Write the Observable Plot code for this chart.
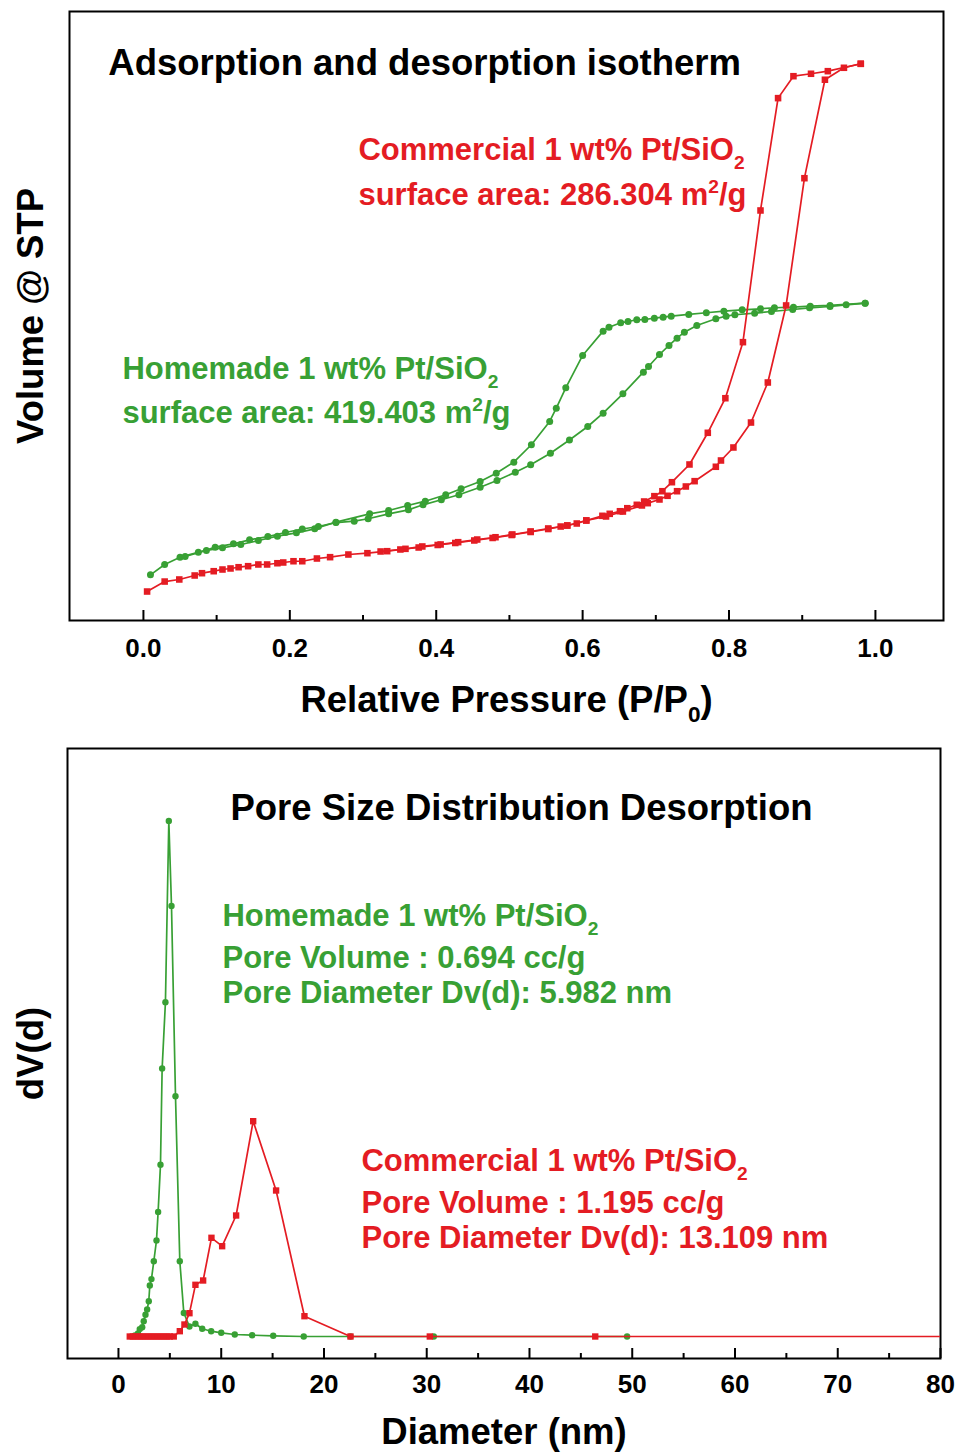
<!DOCTYPE html>
<html>
<head>
<meta charset="utf-8">
<script src="https://cdn.jsdelivr.net/npm/d3@7"></script>
<script src="https://cdn.jsdelivr.net/npm/@observablehq/plot@0.6"></script>
<style>
  html, body { margin: 0; padding: 0; background: #fff; }
  #wrap { width: 958px; }
  #wrap svg { display: block; }
</style>
</head>
<body>
<div id="wrap"></div>
<script>
// ---------- Isotherm data (relative pressure P/P0, volume cm3/g STP) ----------
const commAdsP = [0.005,0.029,0.049,0.070,0.080,0.096,0.108,0.119,0.130,0.143,0.157,0.169,0.183,0.191,0.205,0.217,0.237,0.255,0.280,0.306,0.333,0.358,0.381,0.406,0.430,0.456,0.481,0.504,0.529,0.553,0.570,0.579,0.592,0.605,0.632,0.655,0.681,0.689,0.705,0.716,0.729,0.741,0.753,0.782,0.789,0.806,0.830,0.853,0.878,0.903,0.931,0.957,0.980];
const commAdsV = [58.2,71.7,74.5,79.9,83.0,85.7,88.0,89.4,91.1,92.5,94.8,94.8,96.5,97.5,99.2,99.2,102.9,104.7,108.3,110.1,112.8,116.0,119.2,121.9,125.0,128.6,131.7,135.4,139.5,143.5,146.2,147.6,150.3,154.4,159.8,166.5,174.7,177.8,182.8,187.8,194.0,200.4,207.6,227.1,235.6,253.2,287.0,341.2,445.5,617.8,751.1,767.3,772.7];
const commDesP = [0.980,0.935,0.912,0.888,0.867,0.843,0.819,0.795,0.771,0.746,0.722,0.709,0.698,0.684,0.674,0.661,0.651,0.637,0.627,0.605,0.579,0.553,0.529,0.503,0.477,0.452,0.426,0.402,0.376,0.351,0.324];
const commDesV = [772.7,762.7,759.2,755.9,726.2,574.1,395.8,319.9,273.1,230.2,206.2,194.0,187.3,180.1,175.6,171.0,166.9,163.4,160.7,154.4,147.6,142.8,138.8,134.7,130.7,127.3,123.9,121.2,117.8,115.1,112.4];
const homeAdsP = [0.0096,0.029,0.050,0.075,0.098,0.123,0.145,0.170,0.194,0.217,0.239,0.263,0.288,0.307,0.335,0.362,0.382,0.407,0.431,0.460,0.483,0.508,0.529,0.556,0.582,0.607,0.628,0.655,0.683,0.690,0.705,0.718,0.729,0.739,0.756,0.782,0.796,0.808,0.835,0.858,0.887,0.910,0.938,0.960,0.986];
const homeAdsV = [80.8,94.8,104.7,111.4,118.2,122.8,128.2,132.7,138.1,142.8,146.2,151.6,153.4,156.7,163.4,168.8,175.6,182.4,189.2,199.4,208.5,219.7,229.8,245.5,263.4,281.6,299.6,325.9,355.2,362.9,379.1,391.3,401.2,409.3,418.4,427.5,431.0,432.9,435.0,437.3,440.0,442.3,444.1,446.4,448.6];
const homeDesP = [0.986,0.938,0.911,0.888,0.862,0.843,0.818,0.793,0.769,0.745,0.721,0.710,0.698,0.685,0.674,0.662,0.652,0.636,0.628,0.600,0.577,0.564,0.555,0.530,0.506,0.482,0.460,0.434,0.413,0.385,0.361,0.335,0.309,0.263,0.234,0.209,0.183,0.157,0.133,0.108,0.086,0.057];
const homeDesV = [448.6,445.5,444.5,443.2,442.4,441.0,439.6,437.8,435.6,433.3,431.0,429.6,428.3,426.5,426.1,423.8,422.0,416.1,410.7,377.8,334.0,306.4,288.4,256.9,233.3,218.4,207.2,197.3,189.2,180.5,174.7,167.9,163.4,152.1,143.1,137.7,133.1,127.3,121.9,117.4,113.7,105.6];
const pressureTicks = [0, 0.2, 0.4, 0.6, 0.8, 1.0];
const pressureMinorTicks = [0.1, 0.3, 0.5, 0.7, 0.9];

// ---------- Pore size distribution data (diameter nm, dV(d)) ----------
const commPoreD = [1.1,1.4,1.7,2.0,2.3,2.6,2.9,3.2,3.5,3.8,4.1,4.4,4.7,5.0,5.38,5.97,6.42,6.91,7.49,8.24,9.05,10.09,11.45,13.11,15.34,18.10,22.58,30.3,46.4,95];
const commPoreV = [0,0,0,0,0,0,0,0,0,0,0,0,0,0,0,0.0053,0.012,0.0233,0.0517,0.056,0.0987,0.0903,0.121,0.2153,0.146,0.0203,0,0,0,0];
const homePoreD = [1.6,1.9,2.07,2.31,2.46,2.63,2.79,2.95,3.05,3.21,3.44,3.70,3.86,4.09,4.25,4.57,4.90,5.16,5.55,5.97,6.36,6.91,7.49,8.15,9.02,10.0,11.32,13.01,15.06,18.03,22.58,30.69,49.5];
const homePoreV = [0.001,0.003,0.0074,0.0092,0.0153,0.0217,0.0271,0.0353,0.051,0.0574,0.0753,0.096,0.1246,0.1717,0.2681,0.3342,0.5156,0.4306,0.2403,0.0753,0.0235,0.010,0.0127,0.0077,0.0053,0.0037,0.002,0.0013,0.0007,0,0,0,0];
const diameterTicks = [0, 10, 20, 30, 40, 50, 60, 70, 80];
const diameterMinorTicks = [5, 15, 25, 35, 45, 55, 65, 75];

const RED = "#e41c23";
const GREEN = "#38a034";
const FONT = "'Liberation Sans', Arial, Helvetica, sans-serif";

const zip = (xs, ys, branch) => xs.map((x, i) => ({x, y: ys[i], branch}));
const commIso = [...zip(commAdsP, commAdsV, "ads"), ...zip(commDesP, commDesV, "des")];
const homeIso = [...zip(homeAdsP, homeAdsV, "ads"), ...zip(homeDesP, homeDesV, "des")];
const commPore = zip(commPoreD, commPoreV, "c");
const homePore = zip(homePoreD, homePoreV, "h");

// Converts _{..} and ^{..} into sub/superscript tspans
function richify(svg) {
  svg.querySelectorAll("text").forEach(t => {
    const s = t.textContent;
    if (!/[_^]\{/.test(s)) return;
    const F = parseFloat(getComputedStyle(t).fontSize);
    while (t.firstChild) t.removeChild(t.firstChild);
    let off = 0;
    for (const part of s.split(/([_^]\{[^}]*\})/)) {
      if (!part) continue;
      const m = part.match(/^([_^])\{([^}]*)\}$/);
      const ts = document.createElementNS("http://www.w3.org/2000/svg", "tspan");
      if (m) {
        const target = m[1] === "_" ? 0.28 * F : -0.40 * F;
        ts.setAttribute("dy", target - off); off = target;
        ts.setAttribute("font-size", 0.62 * F);
        ts.textContent = m[2];
      } else {
        ts.setAttribute("dy", -off); off = 0;
        ts.textContent = part;
      }
      t.appendChild(ts);
    }
  });
}

const TITLE = 36.5, NOTE = 31, TICK = 26;

const isoPlot = Plot.plot({
  width: 958,
  height: 730,
  marginLeft: 69,
  marginRight: 15,
  marginTop: 11,
  marginBottom: 110,
  style: {fontFamily: FONT, fontWeight: "bold", background: "white", color: "black"},
  x: {domain: [-0.101, 1.093]},
  y: {domain: [18.96, 843.5], axis: null},
  marks: [
    Plot.frame({stroke: "black", strokeWidth: 2}),
    Plot.axisX({ticks: pressureTicks, tickSize: -10, tickFormat: () => "", strokeWidth: 2, label: null}),
    Plot.axisX({ticks: pressureMinorTicks, tickSize: -5, tickFormat: () => "", strokeWidth: 2, label: null}),
    Plot.axisX({ticks: pressureTicks, tickSize: 0, tickPadding: 18, tickFormat: d => d.toFixed(1), fontSize: TICK, fontWeight: "bold", label: null}),
    Plot.line(homeIso, {x: "x", y: "y", z: "branch", stroke: GREEN, strokeWidth: 1.7}),
    Plot.dot(homeIso, {x: "x", y: "y", r: 3.5, fill: GREEN, stroke: "none"}),
    Plot.line(commIso, {x: "x", y: "y", z: "branch", stroke: RED, strokeWidth: 1.7}),
    Plot.dot(commIso, {x: "x", y: "y", symbol: "square", r: 3.7, fill: RED, stroke: "none"}),
    Plot.text(["Adsorption and desorption isotherm"], {x: -0.048, y: 773, textAnchor: "start", fontSize: TITLE, fontWeight: "bold", fill: "black"}),
    Plot.text(["Commercial 1 wt% Pt/SiO_{2}"], {x: 0.2937, y: 655.3, textAnchor: "start", fontSize: NOTE, fontWeight: "bold", fill: RED}),
    Plot.text(["surface area: 286.304 m^{2}/g"], {x: 0.2937, y: 594.4, textAnchor: "start", fontSize: NOTE, fontWeight: "bold", fill: RED}),
    Plot.text(["Homemade 1 wt% Pt/SiO_{2}"], {x: -0.0287, y: 358.8, textAnchor: "start", fontSize: NOTE, fontWeight: "bold", fill: GREEN}),
    Plot.text(["surface area: 419.403 m^{2}/g"], {x: -0.0287, y: 299.2, textAnchor: "start", fontSize: NOTE, fontWeight: "bold", fill: GREEN}),
    Plot.text(["Relative Pressure (P/P_{0})"], {frameAnchor: "bottom", dy: 80, textAnchor: "middle", lineAnchor: "middle", fontSize: TITLE, fontWeight: "bold", fill: "black"}),
    Plot.text(["Volume @ STP"], {frameAnchor: "left", dx: -38, rotate: -90, textAnchor: "middle", lineAnchor: "middle", fontSize: TITLE, fontWeight: "bold", fill: "black"})
  ]
});

const poreChart = Plot.plot({
  width: 958,
  height: 722,
  marginLeft: 67,
  marginRight: 18,
  marginTop: 18,
  marginBottom: 94,
  style: {fontFamily: FONT, fontWeight: "bold", background: "white", color: "black"},
  x: {domain: [-4.96, 80]},
  y: {domain: [-0.022, 0.588], axis: null},
  marks: [
    Plot.frame({stroke: "black", strokeWidth: 2}),
    Plot.axisX({ticks: diameterTicks, tickSize: -10, tickFormat: () => "", strokeWidth: 2, label: null}),
    Plot.axisX({ticks: diameterMinorTicks, tickSize: -5, tickFormat: () => "", strokeWidth: 2, label: null}),
    Plot.axisX({ticks: diameterTicks, tickSize: 0, tickPadding: 16.5, tickFormat: d => String(d), fontSize: TICK, fontWeight: "bold", label: null}),
    Plot.line(homePore, {x: "x", y: "y", stroke: GREEN, strokeWidth: 1.7}),
    Plot.dot(homePore, {x: "x", y: "y", r: 3.2, fill: GREEN, stroke: "none"}),
    Plot.line(commPore, {x: "x", y: "y", stroke: RED, strokeWidth: 1.7, clip: true}),
    Plot.dot(commPore, {x: "x", y: "y", symbol: "square", r: 3.6, fill: RED, stroke: "none", clip: true}),
    Plot.text(["Pore Size Distribution Desorption"], {x: 10.9, y: 0.528, textAnchor: "start", fontSize: TITLE, fontWeight: "bold", fill: "black"}),
    Plot.text(["Homemade 1 wt% Pt/SiO_{2}"], {x: 10.12, y: 0.420, textAnchor: "start", fontSize: NOTE, fontWeight: "bold", fill: GREEN}),
    Plot.text(["Pore Volume : 0.694 cc/g"], {x: 10.12, y: 0.378, textAnchor: "start", fontSize: NOTE, fontWeight: "bold", fill: GREEN}),
    Plot.text(["Pore Diameter Dv(d): 5.982 nm"], {x: 10.12, y: 0.343, textAnchor: "start", fontSize: NOTE, fontWeight: "bold", fill: GREEN}),
    Plot.text(["Commercial 1 wt% Pt/SiO_{2}"], {x: 23.65, y: 0.175, textAnchor: "start", fontSize: NOTE, fontWeight: "bold", fill: RED}),
    Plot.text(["Pore Volume : 1.195 cc/g"], {x: 23.65, y: 0.133, textAnchor: "start", fontSize: NOTE, fontWeight: "bold", fill: RED}),
    Plot.text(["Pore Diameter Dv(d): 13.109 nm"], {x: 23.65, y: 0.098, textAnchor: "start", fontSize: NOTE, fontWeight: "bold", fill: RED}),
    Plot.text(["Diameter (nm)"], {frameAnchor: "bottom", dy: 74, textAnchor: "middle", lineAnchor: "middle", fontSize: TITLE, fontWeight: "bold", fill: "black"}),
    Plot.text(["dV(d)"], {frameAnchor: "left", dx: -36, rotate: -90, textAnchor: "middle", lineAnchor: "middle", fontSize: TITLE, fontWeight: "bold", fill: "black"})
  ]
});

const wrap = document.getElementById("wrap");
wrap.appendChild(isoPlot);
wrap.appendChild(poreChart);
richify(isoPlot);
richify(poreChart);
</script>
</body>
</html>
